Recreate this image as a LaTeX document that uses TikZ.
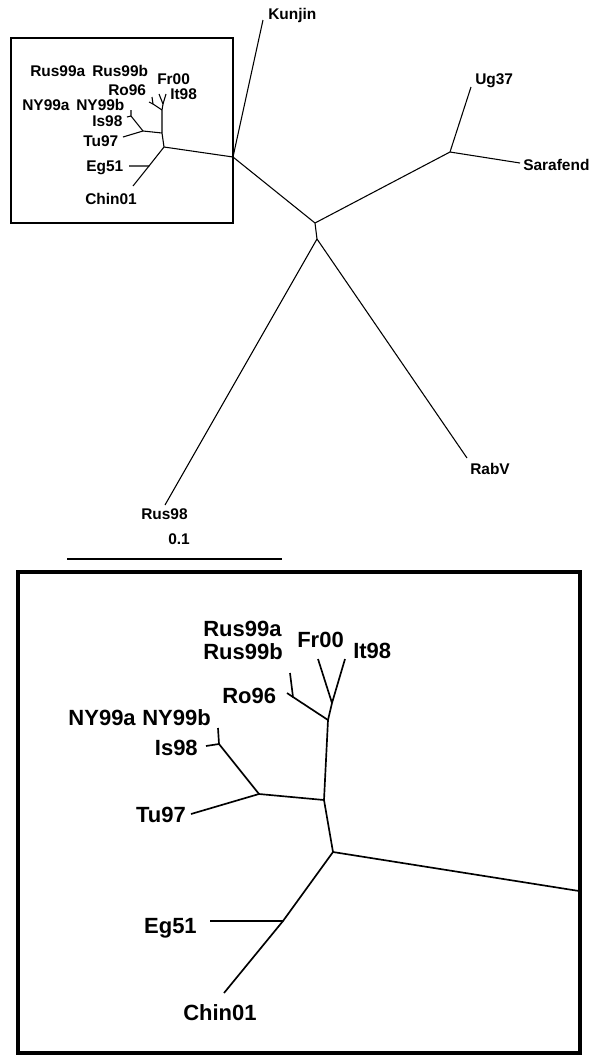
\documentclass[tikz,border=0pt]{standalone}
\usepackage{fontspec}
\setmainfont{Liberation Sans}
\usepackage{tikz}

\begin{document}
\begin{tikzpicture}[x=0.75pt, y=-0.75pt,
        taxon/.style={inner sep=0pt, anchor=base west, font=\fontsize{11.6}{13}\selectfont\bfseries},
        bigtaxon/.style={inner sep=0pt, anchor=base west, font=\fontsize{16.5}{19}\selectfont\bfseries},
        branch/.style={line width=0.8pt},
        bigbranch/.style={line width=1.25pt},
        frame/.style={line width=2.2pt}]
            \useasboundingbox (0,0) rectangle (600,1061);

            % whole tree
            \coordinate (K) at (233,157);
            \coordinate (A) at (315,223);
            \coordinate (B) at (317,239);
            \coordinate (U) at (450,152);
            \coordinate (Kun) at (263,20);
            \coordinate (Ug) at (471,87);
            \coordinate (Sar) at (520,163);
            \coordinate (Rus98) at (165,505);
            \coordinate (Rab) at (467,458);

            \node[taxon] (LKun) at (268,19) {Kunjin};
            \node[taxon] (LUg) at (475,84) {Ug37};
            \node[taxon] (LSar) at (523,170) {Sarafend};
            \node[taxon] (LRus98) at (141,519) {Rus98};
            \node[taxon] (LRab) at (470,474) {RabV};
            \node[taxon] (LScale) at (168,544) {0.1};

            \draw[branch] (K) -- (Kun);
            \draw[branch] (K) -- (A) -- (B);
            \draw[branch] (A) -- (U) -- (Ug);
            \draw[branch] (U) -- (Sar);
            \draw[branch] (B) -- (Rus98);
            \draw[branch] (B) -- (Rab);

            \coordinate (bar1) at (67,559);
            \coordinate (bar2) at (282,559);
            \draw[branch] (bar1) -- (bar2);

            % small box
            \draw[frame] (11,38) rectangle (233,223);
            \coordinate (sR) at (164,147);
            \coordinate (sM) at (162,133);
            \coordinate (sP) at (143,131);
            \coordinate (sTu) at (123,137);
            \coordinate (sI) at (131,116);
            \coordinate (sNY) at (131,110);
            \coordinate (sIs) at (127,117);
            \coordinate (sQ) at (162,110);
            \coordinate (sF) at (163,104);
            \coordinate (sFr) at (159,94);
            \coordinate (sIt) at (166,94);
            \coordinate (sO) at (153,104);
            \coordinate (sRus) at (152,97);
            \coordinate (sRo) at (149,102);
            \coordinate (sG) at (149,166);
            \coordinate (sEg) at (129,166);
            \coordinate (sCh) at (133,186);

            \draw[branch] (sR) -- (K);
            \draw[branch] (sR) -- (sM) -- (sQ) -- (sF) -- (sFr);
            \draw[branch] (sF) -- (sIt);
            \draw[branch] (sQ) -- (sO) -- (sRus);
            \draw[branch] (sO) -- (sRo);
            \draw[branch] (sM) -- (sP) -- (sTu);
            \draw[branch] (sP) -- (sI) -- (sNY);
            \draw[branch] (sI) -- (sIs);
            \draw[branch] (sR) -- (sG) -- (sEg);
            \draw[branch] (sG) -- (sCh);

            \node[taxon] (sLRusa) at (30,76) {Rus99a};
            \node[taxon] (sLRusb) at (92,76) {Rus99b};
            \node[taxon] (sLFr) at (157,84) {Fr00};
            \node[taxon] (sLRo) at (108,95) {Ro96};
            \node[taxon] (sLIt) at (170,99) {It98};
            \node[taxon] (sLNYa) at (22,110) {NY99a};
            \node[taxon] (sLNYb) at (76,110) {NY99b};
            \node[taxon] (sLIs) at (92,126) {Is98};
            \node[taxon] (sLTu) at (83,146) {Tu97};
            \node[taxon] (sLEg) at (86,171) {Eg51};
            \node[taxon] (sLCh) at (85,204) {Chin01};

            % enlarged box
            \draw[frame, line width=2.6pt] (18,572) rectangle (580,1053);
            \coordinate (R) at (333,852);
            \coordinate (E) at (579,891);
            \coordinate (M) at (324,800);
            \coordinate (Q) at (328,720);
            \coordinate (F) at (332,703);
            \coordinate (Fr) at (318,659);
            \coordinate (It) at (345,659);
            \coordinate (O) at (293,697);
            \coordinate (Rus) at (290,673);
            \coordinate (Ro) at (287,693);
            \coordinate (P) at (259,794);
            \coordinate (I) at (219,744);
            \coordinate (NY) at (218,728);
            \coordinate (Is) at (206,746);
            \coordinate (Tu) at (191,814);
            \coordinate (G) at (283,921);
            \coordinate (Eg) at (210,921);
            \coordinate (Ch) at (224,993);

            \draw[bigbranch] (R) -- (E);
            \draw[bigbranch] (R) -- (M) -- (Q) -- (F) -- (Fr);
            \draw[bigbranch] (F) -- (It);
            \draw[bigbranch] (Q) -- (O) -- (Rus);
            \draw[bigbranch] (O) -- (Ro);
            \draw[bigbranch] (M) -- (P) -- (Tu);
            \draw[bigbranch] (P) -- (I) -- (NY);
            \draw[bigbranch] (I) -- (Is);
            \draw[bigbranch] (R) -- (G) -- (Eg);
            \draw[bigbranch] (G) -- (Ch);

            \node[bigtaxon] (LRusa) at (203,636) {Rus99a};
            \node[bigtaxon] (LRusb) at (203,659) {Rus99b};
            \node[bigtaxon] (LFr) at (297,647) {Fr00};
            \node[bigtaxon] (LIt) at (353,658) {It98};
            \node[bigtaxon] (LRo) at (222,703) {Ro96};
            \node[bigtaxon, anchor=base east] (LNYa) at (136,725) {NY99a};
            \node[bigtaxon] (LNYb) at (142,725) {NY99b};
            \node[bigtaxon, anchor=base east] (LIs) at (198,755) {Is98};
            \node[bigtaxon, anchor=base east] (LTu) at (186,822) {Tu97};
            \node[bigtaxon, anchor=base east] (LEg) at (197,933) {Eg51};
            \node[bigtaxon] (LCh) at (183,1020) {Chin01};

        \end{tikzpicture}
\end{document}
